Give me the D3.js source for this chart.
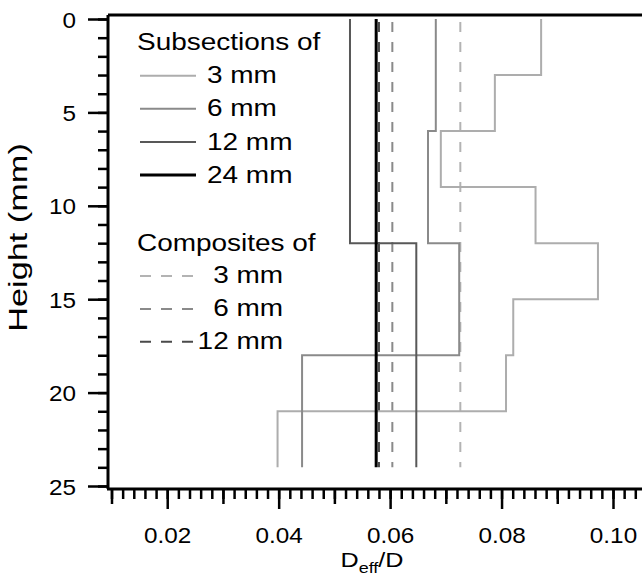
<!DOCTYPE html>
<html lang="en">
<head>
    <meta charset="UTF-8">
    <title>Deff/D profile</title>
    <script src="https://cdnjs.cloudflare.com/ajax/libs/d3/7.8.5/d3.js"></script>
    <style>
        body { margin: 0; background: #fff; }
        svg text { font-family: "Liberation Sans", Arial, sans-serif; fill: #000; }
    </style>
</head>
<body>
<svg width="642" height="578"></svg>

<script>
    // subsection values (Deff/D), one value per subsection, top to bottom
    const sub3 = [0.0871, 0.0788, 0.0691, 0.0861, 0.0973, 0.0821, 0.0808, 0.0398];
    const sub6 = [0.0682, 0.0668, 0.0724, 0.0442];
    const sub12 = [0.0528, 0.0647];
    const sub24 = [0.0575];
    // composite values
    const composites = [0.0726, 0.0604, 0.0580];
    const compLabels = ["3 mm", "6 mm", "12 mm"];
    const subLabels = ["3 mm", "6 mm", "12 mm", "24 mm"];
    const yTicks = [0, 5, 10, 15, 20, 25];
    const xTicks = [0.02, 0.04, 0.06, 0.08, 0.10];

    const svg = d3.select("svg");
    const W = 642;
    const x = d3.scaleLinear().domain([0.01, 0.10]).range([111.5, 613]);
    const y = d3.scaleLinear().domain([0, 25]).range([19, 486]);
    const total = 24;

    const subColors = ["#adadad", "#8a8a8a", "#585858", "#000"];
    const subWidths = [2, 2, 2, 3];
    const compColors = ["#b3b3b3", "#8a8a8a", "#4a4a4a"];

    // the original lettering is wider than Arial, so text gets a horizontal stretch
    const legendSize = 23.5, legendStretch = 1.19;
    const tickSize = 22.3, tickStretch = 1.09;

    // step profiles
    const line = d3.line()
        .x(d => x(d[0]))
        .y(d => y(d[1]))
        .curve(d3.curveStepBefore);

    function steps(vals) {
        const s = total / vals.length;
        const pts = vals.map((v, i) => [v, i * s]);
        pts.push([vals[vals.length - 1], total]);
        return pts;
    }

    const plot = svg.append("g");

    composites.forEach((v, i) => {
        plot.append("line")
            .attr("x1", x(v)).attr("x2", x(v))
            .attr("y1", y(0)).attr("y2", y(total))
            .attr("stroke", compColors[i])
            .attr("stroke-width", 2)
            .attr("stroke-dasharray", "10,10")
            .attr("stroke-dashoffset", -3);
    });

    [sub3, sub6, sub12, sub24].forEach((vals, i) => {
        plot.append("path")
            .attr("d", line(steps(vals)))
            .attr("fill", "none")
            .attr("stroke", subColors[i])
            .attr("stroke-width", subWidths[i]);
    });

    // frame lines
    svg.append("line").attr("x1", 108).attr("x2", W).attr("y1", 15).attr("y2", 15)
        .attr("stroke", "#000").attr("stroke-width", 3);
    svg.append("line").attr("x1", 108).attr("x2", 108).attr("y1", 15).attr("y2", 489)
        .attr("stroke", "#000").attr("stroke-width", 3);
    svg.append("line").attr("x1", 107).attr("x2", W).attr("y1", 489).attr("y2", 489)
        .attr("stroke", "#000").attr("stroke-width", 3);

    // y axis
    svg.append("g").attr("transform", "translate(108,0)")
        .call(d3.axisLeft(y).tickValues(d3.range(0, 26)).tickSize(10).tickFormat(""));
    const yMajor = svg.append("g").attr("transform", "translate(108,0)")
        .call(d3.axisLeft(y).tickValues(yTicks).tickSize(20).tickPadding(12).tickFormat(d3.format("d")));

    // x axis
    svg.append("g").attr("transform", "translate(0,489)")
        .call(d3.axisBottom(x).tickValues(d3.range(5, 53).map(k => k * 0.002)).tickSize(10).tickFormat(""));
    svg.append("g").attr("transform", "translate(0,489)")
        .call(d3.axisBottom(x).tickValues([0.01, 0.03, 0.05, 0.07, 0.09]).tickSize(15).tickFormat(""));
    const xMajor = svg.append("g").attr("transform", "translate(0,489)")
        .call(d3.axisBottom(x).tickValues(xTicks).tickSize(20).tickPadding(18).tickFormat(d3.format(".2f")));

    svg.selectAll(".domain").remove();
    svg.selectAll(".tick line").attr("stroke", "#000").attr("stroke-width", 2.5);
    svg.selectAll(".tick text")
        .attr("font-size", tickSize).attr("font-family", null)
        .attr("transform", `scale(${tickStretch},1)`);
    yMajor.selectAll(".tick text").attr("x", -32 / tickStretch).attr("dy", "0.36em");

    // axis titles
    svg.append("text")
        .attr("transform", "translate(27,237.5) rotate(-90) scale(1.34,1)")
        .attr("text-anchor", "middle")
        .attr("font-size", 25.6)
        .text("Height (mm)");

    const xt = svg.append("text")
        .attr("transform", "translate(372,567) scale(1.2,1)")
        .attr("text-anchor", "middle")
        .attr("font-size", 21);
    xt.append("tspan").text("D");
    xt.append("tspan").attr("font-size", 15).attr("dy", 6).text("eff");
    xt.append("tspan").attr("dy", -6).text("/D");

    // legend
    const leg = svg.append("g").attr("font-size", legendSize);
    function legendText(px, py, str, anchor) {
        leg.append("text")
            .attr("transform", `translate(${px},${py}) scale(${legendStretch},1)`)
            .attr("text-anchor", anchor || "start")
            .text(str);
    }
    legendText(137, 50, "Subsections of");
    subLabels.forEach((t, i) => {
        const yy = 75.7 + i * 33.1;
        leg.append("line").attr("x1", 140).attr("x2", 196).attr("y1", yy).attr("y2", yy)
            .attr("stroke", subColors[i]).attr("stroke-width", subWidths[i]);
        legendText(207, yy + 7.6, t);
    });
    legendText(137, 250.7, "Composites of");
    compLabels.forEach((t, i) => {
        const yy = 276 + i * 32.9;
        leg.append("line").attr("x1", 140).attr("x2", 194).attr("y1", yy).attr("y2", yy)
            .attr("stroke", compColors[i]).attr("stroke-width", 2)
            .attr("stroke-dasharray", "11,10");
        legendText(283, yy + 7.4, t, "end");
    });
</script>
</body>
</html>
